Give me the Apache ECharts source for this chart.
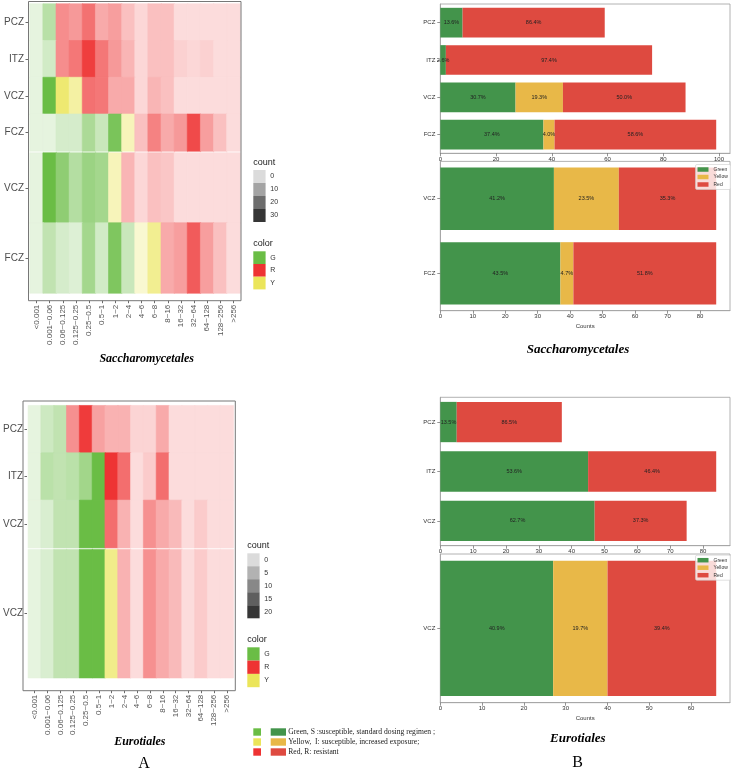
<!DOCTYPE html>
<html><head><meta charset="utf-8">
<script src="https://cdn.jsdelivr.net/npm/echarts@6/dist/echarts.min.js"></script>
<style>html,body{margin:0;padding:0;background:#fff}#c{width:731px;height:771px}</style>
</head><body><div id="c"></div>
<script>
// ---------- data ----------
const micLabels = ['<0.001','0.001~0.06','0.06~0.125','0.125~0.25','0.25~0.5','0.5~1','1~2','2~4','4~6','6~8','8~16','16~32','32~64','64~128','128~256','>256'];

// Saccharomycetales heatmap (A, top)
const sacUpperRows = ['PCZ','ITZ','VCZ','FCZ'];
const sacUpperColor = [
  ['G','G','R','R','R','R','R','R','R','R','R','R','R','R','R','R'],
  ['G','G','R','R','R','R','R','R','R','R','R','R','R','R','R','R'],
  ['G','G','Y','Y','R','R','R','R','R','R','R','R','R','R','R','R'],
  ['G','G','G','G','G','G','G','Y','R','R','R','R','R','R','R','R']];
const sacUpperCount = [
  [0,11,14,12,19,9,11,5,1,5,5,0,0,0,0,0],
  [0,5,14,18,28,18,12,7,1,5,5,2,1,2,0,0],
  [0,30,25,14,19,18,9,9,1,7,5,0,0,0,0,0],
  [0,0,4,4,14,7,26,9,5,16,9,12,26,11,5,0]];
const sacLowerRows = ['VCZ','FCZ'];
const sacLowerColor = [
  ['G','G','G','G','G','G','Y','R','R','R','R','R','R','R','R','R'],
  ['G','G','G','G','G','G','G','G','Y','Y','R','R','R','R','R','R']];
const sacLowerCount = [
  [0,30,21,12,18,16,9,7,1,5,4,0,0,0,0,0],
  [0,9,4,2,16,5,25,7,4,18,9,11,23,11,5,0]];
const sacCountTicks = [0,10,20,30];

// Eurotiales heatmap (A, bottom)
const euroUpperRows = ['PCZ','ITZ','VCZ'];
const euroUpperColor = [
  ['G','G','G','R','R','R','R','R','R','R','R','R','R','R','R','R'],
  ['G','G','G','G','G','G','R','R','R','R','R','R','R','R','R','R'],
  ['G','G','G','G','G','G','R','R','R','R','R','R','R','R','R','R']];
const euroUpperCount = [
  [0,4,6,9,19,7,5,5,1,1,6,0,0,0,0,0],
  [0,7,6,7,11,20,20,13,0,2,13,0,0,0,0,0],
  [0,2,6,6,20,20,13,5,0,9,6,4,0,2,0,0]];
const euroLowerRows = ['VCZ'];
const euroLowerColor = [
  ['G','G','G','G','G','G','Y','R','R','R','R','R','R','R','R','R']];
const euroLowerCount = [
  [0,2,6,6,20,20,13,5,0,9,6,4,0,2,0,0]];
const euroCountTicks = [0,5,10,15,20];

const colorKeys = ['G','R','Y'];

// Bar charts (B)
const sacTopCats = ['PCZ','ITZ','VCZ','FCZ'];
const sacTopGreen = [8,2,27,37];
const sacTopYellow = [0,0,17,4];
const sacTopRed = [51,74,44,58];
const sacBotCats = ['VCZ','FCZ'];
const sacBotGreen = [35,37];
const sacBotYellow = [20,4];
const sacBotRed = [30,44];
const euroTopCats = ['PCZ','ITZ','VCZ'];
const euroTopGreen = [5,45,47];
const euroTopYellow = [0,0,0];
const euroTopRed = [32,39,28];
const euroBotCats = ['VCZ'];
const euroBotGreen = [27];
const euroBotYellow = [13];
const euroBotRed = [26];
const sacTopTicks = [0,20,40,60,80,100];
const sacBotTicks = [0,10,20,30,40,50,60,70,80];
const euroTopTicks = [0,10,20,30,40,50,60,70,80];
const euroBotTicks = [0,10,20,30,40,50,60];

const legendTexts = ['Green, S :susceptible, standard dosing regimen ;','Yellow,  I: susceptible, increased exposure;','Red, R: resistant'];

// ---------- styles ----------
const HEAT_RGB = {G:[106,189,69], R:[238,51,51], Y:[235,229,90]};
const HEAT_HEX = {G:'#6ABD45', R:'#EE3333', Y:'#EBE55A'};
const BAR_COL = {Green:'#43944B', Yellow:'#E8B848', Red:'#DE4A40'};
function cellColor(code, c, cmax){
  const a = 0.17 + 0.83 * c / cmax;
  const [r,g,b] = HEAT_RGB[code];
  // pre-blend over white so adjacent cells show no seams
  const m = v => Math.round(255 - a * (255 - v));
  return 'rgb(' + m(r) + ',' + m(g) + ',' + m(b) + ')';
}
function heatData(colors, counts, cmax){
  const d = [];
  counts.forEach((row, r) => row.forEach((c, i) => {
    const col = cellColor(colors[r][i], c, cmax);
    d.push({value:[i, r, c], itemStyle:{color: col, borderColor: col, borderWidth: 0.6}});
  }));
  return d;
}
function greyFor(c, cmax){ return 'rgba(0,0,0,' + (0.14 + 0.65 * c / cmax).toFixed(3) + ')'; }

const SANS = '"Liberation Sans", Arial, sans-serif';
const SERIF = '"Liberation Serif", "Times New Roman", serif';

// grids
const grids = [
  {left:30, top:4, width:210, height:147},
  {left:30, top:153, width:210, height:140},
  {left:24, top:405.7, width:209.3, height:142},
  {left:24, top:549.7, width:209.3, height:128},
  {left:440.3, top:4, width:289.7, height:149.3},
  {left:440.3, top:161.4, width:289.7, height:149.3},
  {left:440.3, top:397.3, width:289.7, height:148.4},
  {left:440.3, top:554, width:289.7, height:148.7}
].map((g, i) => Object.assign(g, i >= 4 ? {show:true, borderColor:'#a0a0a0', borderWidth:0.8, backgroundColor:'transparent'} : {}));

function heatX(gi, shown, offset){
  return {type:'category', gridIndex:gi, data:micLabels, show:shown, position:'bottom', offset:offset,
    axisLine:{show:false}, axisTick:{show:true, alignWithLabel:true, length:2.5, lineStyle:{color:'#444', width:0.8}},
    axisLabel:{rotate:90, fontSize:8, color:'#555', margin:4, interval:0, fontFamily:SANS}, splitLine:{show:false}};
}
function heatY(gi, rows, offset){
  return {type:'category', gridIndex:gi, data:rows, inverse:true, offset:offset,
    axisLine:{show:false}, axisTick:{show:true, alignWithLabel:true, length:2.5, lineStyle:{color:'#444', width:0.8}},
    axisLabel:{fontSize:10, color:'#4d4d4d', margin:4, fontFamily:SANS}, splitLine:{show:false}};
}
function barX(gi, max, interval, ticks, named){
  const ax = {type:'value', gridIndex:gi, min:0, max:max, interval:interval,
    axisLine:{show:true, lineStyle:{color:'#a0a0a0', width:0.8}},
    axisTick:{show:true, length:3, customValues:ticks, lineStyle:{color:'#666', width:0.7}},
    axisLabel:{fontSize:6, color:'#333', margin:3, customValues:ticks, fontFamily:SANS},
    splitLine:{show:false}};
  if (named) Object.assign(ax, {name:'Counts', nameLocation:'middle', nameGap:13, nameTextStyle:{fontSize:6, color:'#333', fontFamily:SANS}});
  return ax;
}
function barY(gi, cats){
  return {type:'category', gridIndex:gi, data:cats, inverse:true,
    axisLine:{show:true, lineStyle:{color:'#a0a0a0', width:0.8}},
    axisTick:{show:true, alignWithLabel:true, length:3, lineStyle:{color:'#666', width:0.7}},
    axisLabel:{fontSize:6, color:'#333', margin:5, fontFamily:SANS}};
}

const xAxes = [
  heatX(0, false, 0), heatX(1, true, 7.7), heatX(2, false, 0), heatX(3, true, 13),
  barX(4, 103.95, 20, sacTopTicks, false), barX(5, 89.25, 10, sacBotTicks, true),
  barX(6, 88.2, 10, euroTopTicks, false), barX(7, 69.3, 10, euroBotTicks, true)
];
const yAxes = [
  heatY(0, sacUpperRows, 2), heatY(1, sacLowerRows, 2), heatY(2, euroUpperRows, 1.3), heatY(3, euroLowerRows, 1.3),
  barY(4, sacTopCats), barY(5, sacBotCats), barY(6, euroTopCats), barY(7, euroBotCats)
];

const series = [
  {type:'heatmap', name:'sacU', xAxisIndex:0, yAxisIndex:0, data:heatData(sacUpperColor, sacUpperCount, 30)},
  {type:'heatmap', name:'sacL', xAxisIndex:1, yAxisIndex:1, data:heatData(sacLowerColor, sacLowerCount, 30)},
  {type:'heatmap', name:'euroU', xAxisIndex:2, yAxisIndex:2, data:heatData(euroUpperColor, euroUpperCount, 20)},
  {type:'heatmap', name:'euroL', xAxisIndex:3, yAxisIndex:3, data:heatData(euroLowerColor, euroLowerCount, 20)}
];
function addBars(idx, green, yellow, red, barWidth){
  const totals = green.map((g, i) => g + yellow[i] + red[i]);
  [['Green', green], ['Yellow', yellow], ['Red', red]].forEach(([name, vals]) => {
    series.push({type:'bar', name:name, stack:'s' + idx, xAxisIndex:idx, yAxisIndex:idx, data:vals,
      barWidth:barWidth, itemStyle:{color:BAR_COL[name]},
      label:{show:true, position:'inside', fontSize:5.5, color:'#222', fontFamily:SANS,
        formatter:p => p.value ? (p.value / totals[p.dataIndex] * 100).toFixed(1) + '%' : ''}});
  });
}
addBars(4, sacTopGreen, sacTopYellow, sacTopRed, 29.7);
addBars(5, sacBotGreen, sacBotYellow, sacBotRed, 62.4);
addBars(6, euroTopGreen, euroTopYellow, euroTopRed, 40.3);
addBars(7, euroBotGreen, euroBotYellow, euroBotRed, 135.3);

function barLegend(top){
  return {data:['Green','Yellow','Red'], orient:'vertical', left:695.5, top:top, icon:'rect',
    itemWidth:11, itemHeight:4.5, itemGap:2.5, itemTextGap:4,
    textStyle:{fontSize:5, color:'#333', fontFamily:SANS},
    backgroundColor:'rgba(255,255,255,0.8)', borderColor:'#ccc', borderWidth:0.6, borderRadius:1.5, padding:[2.5,3,2.5,2]};
}

// ---------- decorations ----------
const gfx = [];
function txt(x, y, text, size, opts){
  gfx.push({type:'text', x:x, y:y, z:20, style:Object.assign({text:text, fontSize:size, fontFamily:SANS, fill:'#333',
    align:'left', verticalAlign:'middle', textAlign:'left', textVerticalAlign:'middle'}, opts || {})});
}
function rect(x, y, w, h, style){ gfx.push({type:'rect', z:20, shape:{x:x, y:y, width:w, height:h}, style:style}); }

// heatmap frames
rect(28.5, 1.5, 212.5, 299.2, {fill:'none', stroke:'#777', lineWidth:1});
rect(23, 401, 212.3, 289.7, {fill:'none', stroke:'#777', lineWidth:1});

// heatmap legends
function heatLegend(x, yCount, ticks, cmax, boxH, yColor, colH){
  txt(x, yCount, 'count', 9, {fill:'#222'});
  ticks.forEach((t, i) => {
    rect(x, yCount + 7.3 + i * boxH, 12.3, boxH, {fill:greyFor(t, cmax)});
    txt(x + 17, yCount + 7.3 + i * boxH + boxH / 2, String(t), 7, {fill:'#333'});
  });
  txt(x, yColor, 'color', 9, {fill:'#222'});
  colorKeys.forEach((k, i) => {
    rect(x, yColor + 7.3 + i * colH, 12.3, colH, {fill:HEAT_HEX[k]});
    txt(x + 17, yColor + 7.3 + i * colH + colH / 2, k, 7, {fill:'#333'});
  });
}
heatLegend(253.3, 162.7, sacCountTicks, 30, 13, 244, 12.7);
heatLegend(247.3, 546, euroCountTicks, 20, 13, 640, 13.3);

// bottom colour key
const keyBar = ['Green','Yellow','Red'];
const keyHeat = ['G','Y','R'];
legendTexts.forEach((t, i) => {
  const yc = 732 + i * 10;
  rect(253.3, yc - 3.7, 7.7, 7.4, {fill:HEAT_HEX[keyHeat[i]]});
  rect(270.7, yc - 3.7, 15.3, 7.4, {fill:BAR_COL[keyBar[i]]});
  txt(288.3, yc, t, 7.6, {fontFamily:SERIF, fill:'#222'});
});

// titles
const titleStyle = {fontFamily:SERIF, fontStyle:'italic', fontWeight:'bold', fill:'#000', align:'center', textAlign:'center'};
txt(146.7, 359.3, 'Saccharomycetales', 12, titleStyle);
txt(578, 350, 'Saccharomycetales', 13, titleStyle);
txt(139.8, 741.7, 'Eurotiales', 12, titleStyle);
txt(577.8, 738.3, 'Eurotiales', 13, titleStyle);
txt(144, 764, 'A', 16, {fontFamily:SERIF, fill:'#000', align:'center', textAlign:'center'});
txt(577.7, 763, 'B', 16, {fontFamily:SERIF, fill:'#000', align:'center', textAlign:'center'});

const chart = echarts.init(document.getElementById('c'), null, {renderer:'canvas'});
chart.setOption({
  animation:false,
  backgroundColor:'#fff',
  grid:grids,
  xAxis:xAxes,
  yAxis:yAxes,
  legend:[barLegend(164.5), barLegend(555.2)],
  series:series,
  graphic:gfx
});
</script>
</body></html>
